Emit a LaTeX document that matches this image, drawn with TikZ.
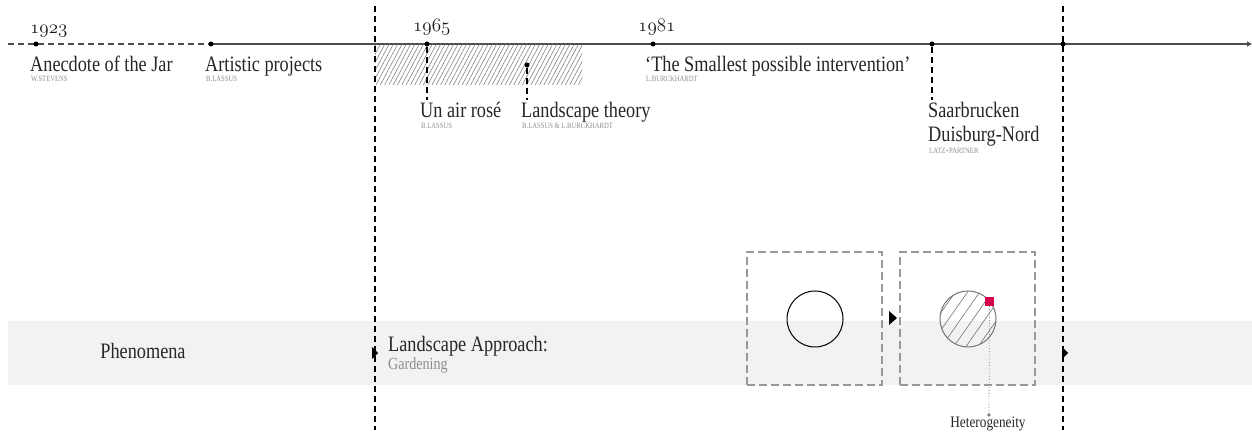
\documentclass[tikz,border=0pt]{standalone}
\usepackage{fix-cm}
\usepackage{fontspec}
\setmainfont{Liberation Serif}[FakeStretch=0.83]
\usetikzlibrary{positioning}
\usetikzlibrary{calc}
\usetikzlibrary{backgrounds}
\usetikzlibrary{patterns.meta}
\usetikzlibrary{arrows.meta}
\definecolor{accent}{RGB}{214,0,80}

\begin{document}
\begin{tikzpicture}[x=1pt,y=1pt,
ev/.style={circle, fill=black, inner sep=0pt, minimum size=5pt},
lbl/.style={anchor=base west, inner sep=0pt, font=\fontsize{22}{24}\selectfont, text=black!85},
sub/.style={anchor=base west, inner sep=0pt, font=\fontsize{17}{19}\selectfont, text=black!45},
cr/.style={anchor=base west, inner sep=0pt, font=\fontsize{8}{9}\selectfont, text=black!45},
yr/.style={anchor=base west, inner sep=0pt, font=\fontsize{19}{22}\usefont{OML}{cmm}{m}{it}, text=black!90},
axis/.style={draw=black!70, line width=1.2pt},
lead/.style={draw=black, line width=1.2pt, dash pattern=on 6pt off 4pt},
framebox/.style={draw=black!40, line width=1.2pt, dash pattern=on 8pt off 4pt},
mk/.style={fill=black}]
\useasboundingbox (0,0) rectangle (1252,436);
% band
\fill[black!5] (8,51) rectangle (1252,115);
% hatched period
\fill[pattern={Lines[angle=62,distance=3.8pt,line width=0.5pt]}, pattern color=black!55] (375,351) rectangle (582,392);
% era borders
\coordinate (eraA top) at (375,430);
\coordinate (eraA bot) at (375,6);
\coordinate (eraB top) at (1063,430);
\coordinate (eraB bot) at (1063,6);
\draw[lead] (eraA top) -- (eraA bot);
\draw[lead] (eraB top) -- (eraB bot);
% timeline
\foreach \n/\x in {1923/36, art/211, 1965/427, 1981/653, saar/932, end/1063} {
\node (e\n) at (\x,392) [ev] {};
}
\coordinate (t0) at (8,392);
\coordinate (t1) at (1252,392);
\begin{scope}[on background layer]
\draw[axis, dash pattern=on 6pt off 4pt] (t0) -- (eart.center);
\draw[axis, -{Latex[length=5pt,width=6pt]}] (eart.center) -- (t1);
\end{scope}
% years
\node (y1923) at (30,402) [yr] {1923};
\node (y1965) at (413,404) [yr] {1965};
\node (y1981) at (638,404) [yr] {1981};
% events above
\node (jar) at (30,364) [lbl] {Anecdote of the Jar};
\node (jarc) at (31,354) [cr] {W.STEVENS};
\node (art) at (205,364) [lbl] {Artistic projects};
\node (artc) at (206,354) [cr] {B.LASSUS};
\node (small) at (645,364) [lbl] {‘The Smallest possible intervention’};
\node (smallc) at (646,354) [cr] {L.BURCKHARDT};
% events below
\node (eland) at (527,371) [ev] {};
\coordinate (l1965) at (427,336);
\coordinate (lland) at (527,336);
\coordinate (lsaar) at (932,336);
\draw[lead] (e1965) -- (l1965);
\draw[lead] (eland) -- (lland);
\draw[lead] (esaar) -- (lsaar);
\node (rose) at (420,318) [lbl] {Un air rosé};
\node (rosec) at (421,307) [cr] {B.LASSUS};
\node (land) at (521,318) [lbl] {Landscape theory};
\node (landc) at (522,307) [cr] {B.LASSUS \& L.BURCKHARDT};
\node (saar) at (928,318) [lbl] {Saarbrucken};
\node (duis) at (928,294) [lbl] {Duisburg-Nord};
\node (duisc) at (929,282) [cr] {LATZ+PARTNER};
% approach
\node (phen) at (143,77) [lbl, anchor=base] {Phenomena};
\node (appr) at (388,84) [lbl] {Landscape Approach:};
\node (gard) at (388,66) [sub] {Gardening};
\fill[mk] (372,77) -- (378,83) -- (372,89) -- cycle;
\fill[mk] (1062,77) -- (1068,83) -- (1062,89) -- cycle;
% states
\node (box1) at (814.5,117.5) [framebox, minimum width=135pt, minimum height=133pt] {};
\node (box2) at (967.5,117.5) [framebox, minimum width=135pt, minimum height=133pt] {};
\fill[mk] (889,111) -- (897,118) -- (889,125) -- cycle;
\node (c1) at (815,117) [circle, draw=black, line width=1pt, minimum size=56pt] {};
\node (c2) at (968,117) [circle, draw=black!55, line width=1pt, minimum size=56pt,
pattern={Lines[angle=55,distance=10pt,line width=0.6pt]}, pattern color=black!55] {};
\node (het) at (989.5,134.5) [fill=accent, inner sep=0pt, minimum size=9pt] {};
\coordinate (hend) at (989,21);
\draw[black!50, line width=0.8pt, dotted] (het) -- (hend);
\fill[black!50] (hend) circle (1.8pt);
\node (hetl) at (988,8) [anchor=base, inner sep=0pt, font=\fontsize{16}{18}\selectfont, text=black!85] {Heterogeneity};
\end{tikzpicture}
\end{document}
